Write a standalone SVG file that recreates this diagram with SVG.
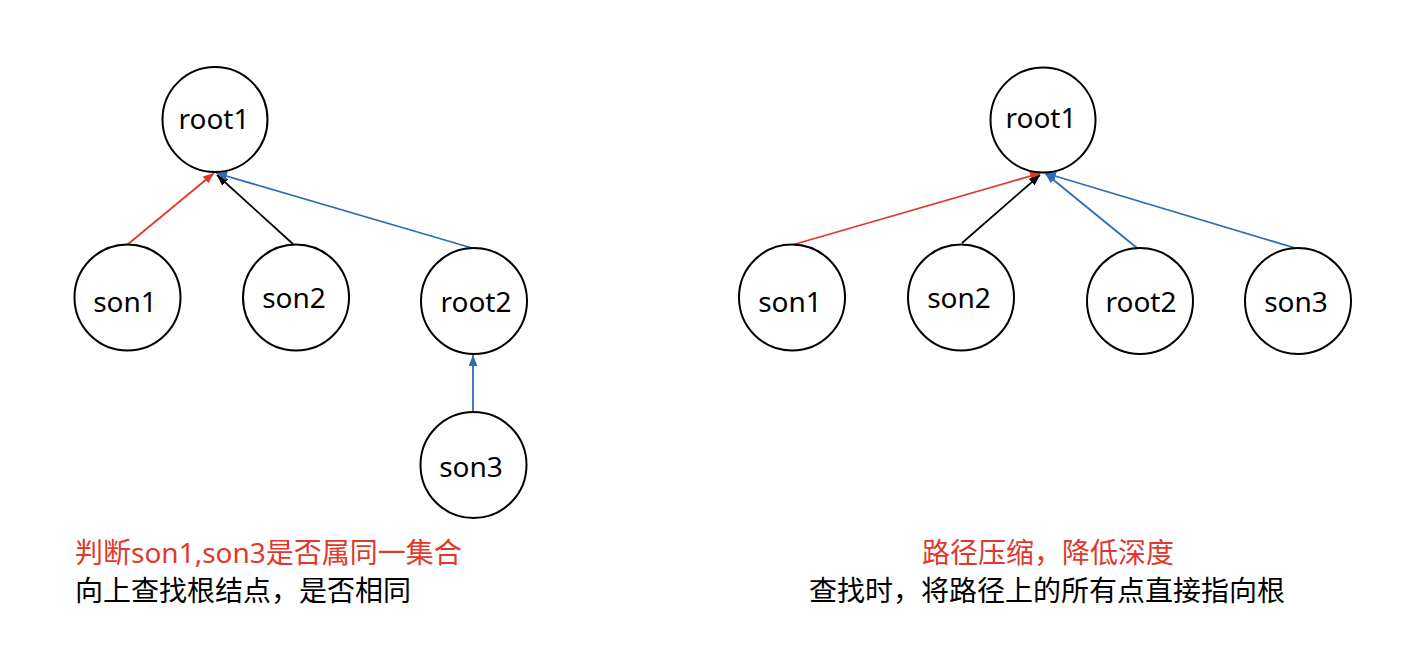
<svg xmlns="http://www.w3.org/2000/svg" width="1418" height="668" viewBox="0 0 1418 668">
<style>
.node{fill:#fff;stroke:#000;stroke-width:2}
.lbl{font-family:"Noto Sans","Noto Sans CJK SC",sans-serif;font-size:28px;fill:#000;text-anchor:middle}
.cap{font-family:"Noto Sans","Noto Sans CJK SC",sans-serif;font-size:28px}
.red{stroke:#E0382C}
.blk{stroke:#000}
.blu{stroke:#2E6DB4}
.edge{fill:none;stroke-width:1.8}
</style>
<defs>
<marker id="ar" viewBox="0 0 10 8" refX="10" refY="4" markerWidth="11" markerHeight="9" markerUnits="userSpaceOnUse" orient="auto"><path d="M0,0L10,4L0,8Z" fill="#E0382C"/></marker>
<marker id="ak" viewBox="0 0 10 8" refX="10" refY="4" markerWidth="11" markerHeight="9" markerUnits="userSpaceOnUse" orient="auto"><path d="M0,0L10,4L0,8Z" fill="#000"/></marker>
<marker id="ab" viewBox="0 0 10 8" refX="10" refY="4" markerWidth="11" markerHeight="9" markerUnits="userSpaceOnUse" orient="auto"><path d="M0,0L10,4L0,8Z" fill="#2E6DB4"/></marker>
</defs>
<rect width="1418" height="668" fill="#fff"/>
<g id="connectors">
<line class="edge red" x1="127" y1="245" x2="214" y2="173" marker-end="url(#ar)"/>
<line class="edge blk" x1="293" y1="244" x2="217" y2="175" marker-end="url(#ak)"/>
<line class="edge blu" x1="472" y1="248" x2="216" y2="173" marker-end="url(#ab)"/>
<line class="edge blu" x1="473" y1="412" x2="473" y2="355" marker-end="url(#ab)"/>
<line class="edge red" x1="792" y1="245" x2="1041" y2="173" marker-end="url(#ar)"/>
<line class="edge blk" x1="962" y1="243" x2="1040" y2="175" marker-end="url(#ak)"/>
<line class="edge blu" x1="1137" y1="248" x2="1045" y2="173" marker-end="url(#ab)"/>
<line class="edge blu" x1="1295" y1="248" x2="1045" y2="173" marker-end="url(#ab)"/>
</g>
<g id="L-root1"><circle class="node" cx="215" cy="119.5" r="52.5"/><text class="lbl" x="214" y="129">root1</text></g>
<g id="L-son1"><circle class="node" cx="127.5" cy="297.5" r="53"/><text class="lbl" x="125" y="312">son1</text></g>
<g id="L-son2"><circle class="node" cx="296" cy="297.5" r="53"/><text class="lbl" x="294" y="308">son2</text></g>
<g id="L-root2"><circle class="node" cx="474" cy="301" r="53"/><text class="lbl" x="476" y="312">root2</text></g>
<g id="L-son3"><circle class="node" cx="473.5" cy="465" r="53"/><text class="lbl" x="471" y="477">son3</text></g>
<g id="R-root1"><circle class="node" cx="1043" cy="120" r="52.5"/><text class="lbl" x="1041" y="128">root1</text></g>
<g id="R-son1"><circle class="node" cx="792" cy="297.5" r="53"/><text class="lbl" x="790" y="312">son1</text></g>
<g id="R-son2"><circle class="node" cx="961" cy="297.5" r="53"/><text class="lbl" x="959" y="308">son2</text></g>
<g id="R-root2"><circle class="node" cx="1140" cy="301" r="53"/><text class="lbl" x="1141" y="312">root2</text></g>
<g id="R-son3"><circle class="node" cx="1298" cy="301" r="53"/><text class="lbl" x="1296" y="312">son3</text></g>
<g id="captions">
<text class="cap" x="75" y="563" fill="#E0382C">判断son1,son3是否属同一集合</text>
<text class="cap" x="75" y="601" fill="#000">向上查找根结点，是否相同</text>
<text class="cap" x="1048" y="563" fill="#E0382C" text-anchor="middle">路径压缩，降低深度</text>
<text class="cap" x="1047" y="601" fill="#000" text-anchor="middle">查找时，将路径上的所有点直接指向根</text>
</g>
</svg>
